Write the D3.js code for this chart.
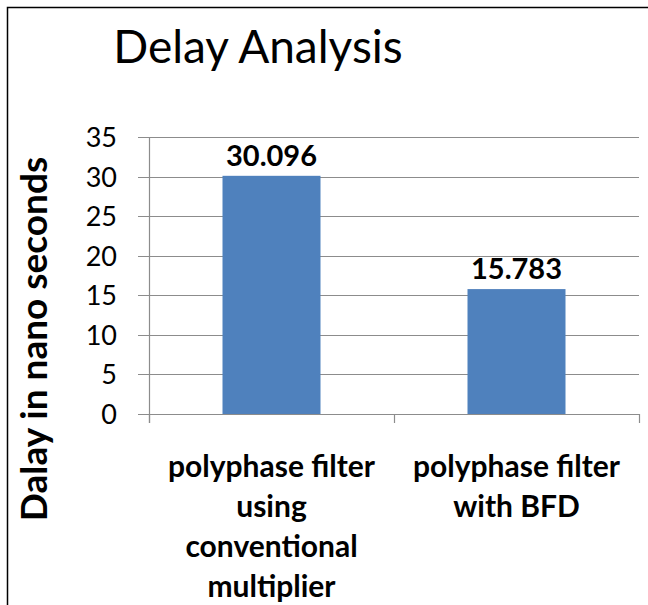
<!DOCTYPE html>
<html>
<head>
<meta charset="utf-8">
<script src="https://cdn.jsdelivr.net/npm/d3@7"></script>
<style>
  html, body { margin: 0; padding: 0; background: #fff; }
  svg { display: block; }
  text { font-family: Lato, "Open Sans", sans-serif; fill: #000; }
</style>
</head>
<body>
<script>
const titleText = "Delay Analysis";
const yAxisTitle = "Dalay in nano seconds";
const categories = [
  ["polyphase filter", "using", "conventional", "multiplier"],
  ["polyphase filter", "with BFD"]
];
const delays = [30.096, 15.783];
const valueLabels = ["30.096", "15.783"];
const yTicks = [0, 5, 10, 15, 20, 25, 30, 35];

const W = 648, H = 605;
const margin = { left: 149, right: 9, top: 137, bottom: 191 };

const svg = d3.select("body").append("svg").attr("width", W).attr("height", H);

// outer chart border (left and top visible)
svg.append("rect").attr("x", 7.5).attr("y", 7.5).attr("width", W).attr("height", H)
  .attr("fill", "none").attr("stroke", "#000").attr("stroke-width", 1.5);

const x = d3.scaleBand().domain(d3.range(delays.length))
  .range([margin.left, W - margin.right]).paddingInner(0).paddingOuter(0);
const y = d3.scaleLinear().domain([0, 35]).range([H - margin.bottom, margin.top]);

// gridlines + tick marks
const g = svg.append("g");
g.selectAll("line.grid").data(yTicks).join("line")
  .attr("class", "grid")
  .attr("x1", margin.left - 11).attr("x2", W - margin.right)
  .attr("y1", d => Math.round(y(d)) + 0.5).attr("y2", d => Math.round(y(d)) + 0.5)
  .attr("stroke", "#8c8c8c").attr("stroke-width", 1.2);

// y axis line
g.append("line").attr("x1", margin.left + 0.5).attr("x2", margin.left + 0.5)
  .attr("y1", y(35)).attr("y2", y(0) + 9)
  .attr("stroke", "#8c8c8c").attr("stroke-width", 1.2);

// x category tick marks
const xTickPos = [margin.left, margin.left + x.bandwidth(), W - margin.right];
g.selectAll("line.xt").data(xTickPos).join("line")
  .attr("x1", d => Math.round(d) + 0.5).attr("x2", d => Math.round(d) + 0.5)
  .attr("y1", y(0)).attr("y2", y(0) + 9)
  .attr("stroke", "#8c8c8c").attr("stroke-width", 1.2);

// y tick labels
svg.selectAll("text.yt").data(yTicks).join("text")
  .attr("class", "yt")
  .attr("x", 117).attr("y", d => y(d) + 10)
  .attr("text-anchor", "end").attr("font-size", 27)
  .text(d => d);

// bars
const bw = x.bandwidth() / 2.5;
svg.selectAll("rect.bar").data(delays).join("rect")
  .attr("class", "bar")
  .attr("x", (d, i) => x(i) + (x.bandwidth() - bw) / 2)
  .attr("width", bw)
  .attr("y", d => y(d))
  .attr("height", d => y(0) - y(d))
  .attr("fill", "#4f81bd");

// value labels
svg.selectAll("text.val").data(delays).join("text")
  .attr("class", "val")
  .attr("x", (d, i) => x(i) + x.bandwidth() / 2)
  .attr("y", d => y(d) - 10)
  .attr("text-anchor", "middle").attr("font-size", 29).attr("font-weight", "bold")
  .text((d, i) => valueLabels[i]);

// category labels
categories.forEach((lines, i) => {
  const t = svg.append("text")
    .attr("text-anchor", "middle").attr("font-size", 30).attr("font-weight", "bold");
  lines.forEach((ln, j) => {
    t.append("tspan").attr("x", x(i) + x.bandwidth() / 2).attr("y", 477 + j * 40).text(ln);
  });
});

// y axis title
svg.append("text")
  .attr("transform", `translate(47, 339) rotate(-90)`)
  .attr("text-anchor", "middle").attr("font-size", 37).attr("font-weight", "bold")
  .text(yAxisTitle);

// title
svg.append("text")
  .attr("x", 258).attr("y", 63)
  .attr("text-anchor", "middle").attr("font-size", 46)
  .text(titleText);
</script>
</body>
</html>
